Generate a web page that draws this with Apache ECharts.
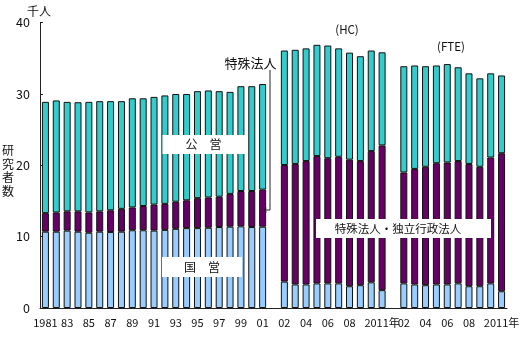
<!DOCTYPE html>
<html><head><meta charset="utf-8">
<script src="https://cdn.jsdelivr.net/npm/echarts@6/dist/echarts.min.js"></script>
<style>html,body{margin:0;padding:0;background:#fff}#c{width:525px;height:350px}</style>
</head><body><div id="c"></div>
<script>
var categories = ['1981','1982','1983','1984','1985','1986','1987','1988','1989','1990','1991','1992','1993','1994','1995','1996','1997','1998','1999','2000','2001',
  'gap1',
  'HC2002','HC2003','HC2004','HC2005','HC2006','HC2007','HC2008','HC2009','HC2010','HC2011',
  'gap2',
  'FTE2002','FTE2003','FTE2004','FTE2005','FTE2006','FTE2007','FTE2008','FTE2009','FTE2010','FTE2011'];
var tickLabels = ['1981','','83','','85','','87','','89','','91','','93','','95','','97','','99','','01',
  '',
  '02','','04','','06','','08','','','2011年',
  '',
  '02','','04','','06','','08','','','2011年'];
// 国営
var kokuei = [10.7,10.7,10.85,10.7,10.55,10.7,10.65,10.7,10.9,10.9,10.85,10.95,11.1,11.2,11.2,11.25,11.35,11.4,11.45,11.35,11.4,
  null,
  3.7,3.3,3.3,3.45,3.45,3.45,3.05,3.2,3.6,2.5,
  null,
  3.45,3.3,3.2,3.3,3.3,3.45,3.05,3.05,3.45,2.35];
// 特殊法人（・独立行政法人）
var tokushu = [2.6,2.7,2.7,2.85,2.85,2.85,3.05,3.2,3.2,3.4,3.65,3.65,3.8,3.9,4.2,4.25,4.25,4.6,4.95,5.05,5.2,
  null,
  16.35,16.9,17.3,17.85,17.55,17.75,17.75,17.4,18.4,20.3,
  null,
  15.55,16.2,16.6,17.0,17.1,17.15,17.15,16.75,17.65,19.35];
// 公営
var kouei = [15.6,15.7,15.35,15.3,15.5,15.45,15.3,15.1,15.3,15.1,15.1,15.2,15.1,14.9,15.0,15.0,14.8,14.3,14.7,14.7,14.8,
  null,
  16.05,16.0,15.8,15.6,15.8,15.2,15.0,14.7,14.1,13.05,
  null,
  14.9,14.5,14.1,13.7,13.8,13.15,12.7,12.4,11.8,10.9];
var yTicks = [0,10,20,30,40];

var FONT = '"Noto Sans CJK JP", sans-serif';
var chart = echarts.init(document.getElementById('c'), null, {renderer:'canvas'});
function barSeries(name, data, color){
  return {name:name, type:'bar', stack:'t', data:data, barWidth:7,
    itemStyle:{color:color, borderColor:'#111', borderWidth:1}, silent:true};
}
var txt = {fontFamily:FONT, fill:'#111'};
function G(o){ o.z = 100; o.zlevel = 0; return o; }
chart.setOption({
  animation:false,
  backgroundColor:'#fff',
  grid:{left:40, right:18, top:22.7, bottom:42, outerBoundsMode:'none'},
  xAxis:{type:'category', data:categories, boundaryGap:true,
    axisLine:{lineStyle:{color:'#222', width:1}},
    axisTick:{show:false},
    axisLabel:{interval:0, margin:9, fontSize:11, color:'#111', fontFamily:FONT,
      formatter:function(v, i){ return tickLabels[i]; }}},
  yAxis:{type:'value', min:yTicks[0], max:yTicks[yTicks.length-1], interval:10,
    splitLine:{show:false},
    axisLine:{show:true, lineStyle:{color:'#222', width:1}},
    axisTick:{show:true, inside:true, length:3, lineStyle:{color:'#222'}},
    axisLabel:{margin:10, fontSize:12.5, color:'#111', fontFamily:FONT}},
  series:[
    barSeries('国営', kokuei, '#99CCFF'),
    barSeries('特殊法人', tokushu, '#660066'),
    barSeries('公営', kouei, '#33CCCC')
  ],
  graphic:[
    G({type:'text', left:27, top:5, style:Object.assign({text:'千人', fontSize:12}, txt)}),
    G({type:'text', x:2, y:144, style:Object.assign({text:'研\n究\n者\n数', fontSize:12, lineHeight:13.5}, txt)}),
    G({type:'rect', shape:{x:162.5, y:135, width:82.5, height:19}, style:{fill:'#fff'}}),
    G({type:'text', x:203.5, y:144.5, style:Object.assign({text:'公　営', fontSize:12, align:'center', verticalAlign:'middle'}, txt)}),
    G({type:'rect', shape:{x:162, y:257, width:80, height:20}, style:{fill:'#fff'}}),
    G({type:'text', x:202, y:267, style:Object.assign({text:'国　営', fontSize:12, align:'center', verticalAlign:'middle'}, txt)}),
    G({type:'rect', shape:{x:316, y:219, width:175, height:19}, style:{fill:'#fff'}}),
    G({type:'text', x:398, y:228.5, style:Object.assign({text:'特殊法人・独立行政法人', fontSize:11.5, align:'center', verticalAlign:'middle'}, txt)}),
    G({type:'text', x:250.5, y:63, style:Object.assign({text:'特殊法人', fontSize:13, align:'center', verticalAlign:'middle'}, txt)}),
    G({type:'polyline', shape:{points:[[270,70],[270,210],[264,210]]}, style:{stroke:'#222', lineWidth:1, fill:null}}),
    G({type:'polyline', shape:{points:[[266.5,208],[264,210],[266.5,212]]}, style:{stroke:'#222', lineWidth:1, fill:null}}),
    G({type:'text', x:347, y:30, style:Object.assign({text:'(HC)', fontSize:11.5, align:'center', verticalAlign:'middle'}, txt)}),
    G({type:'text', x:451, y:47, style:Object.assign({text:'(FTE)', fontSize:11.5, align:'center', verticalAlign:'middle'}, txt)})
  ]
});
</script></body></html>
